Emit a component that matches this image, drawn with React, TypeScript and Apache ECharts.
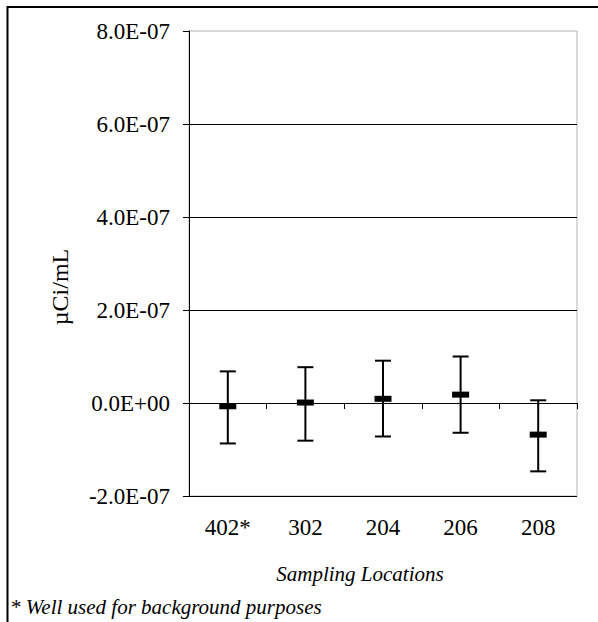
import React, { useEffect, useRef } from "react";
import * as echarts from "echarts";

// Sampling locations and measured concentrations (µCi/mL)
const categories = ["402*", "302", "204", "206", "208"];
const means = [-7e-9, 1e-9, 9e-9, 1.8e-8, -6.8e-8];
const lowerBounds = [-8.7e-8, -8.1e-8, -7.2e-8, -6.4e-8, -1.47e-7];
const upperBounds = [6.8e-8, 7.7e-8, 9.1e-8, 1.0e-7, 5.8e-9];

const yMin = -2e-7;
const yMax = 8e-7;
const yStep = 2e-7;

const FONT = "Liberation Serif";

// Excel-style scientific notation, e.g. 8.0E-07
function sci(v: number): string {
  if (Math.abs(v) < 1e-15) return "0.0E+00";
  const sign = v < 0 ? "-" : "";
  const a = Math.abs(v);
  let exp = Math.floor(Math.log10(a));
  let mant = a / Math.pow(10, exp);
  if (Number(mant.toFixed(1)) >= 10) {
    exp += 1;
    mant = a / Math.pow(10, exp);
  }
  const e = Math.abs(exp).toString().padStart(2, "0");
  return `${sign}${mant.toFixed(1)}E${exp < 0 ? "-" : "+"}${e}`;
}

export default function App() {
  const ref = useRef<HTMLDivElement>(null);

  useEffect(() => {
    if (!ref.current) return;
    const chart = echarts.init(ref.current, undefined, { renderer: "svg" });

    const errorData = categories.map((_, i) => [i, lowerBounds[i], upperBounds[i]]);
    const meanData = categories.map((_, i) => [i, means[i]]);

    chart.setOption({
      animation: false,
      backgroundColor: "#fff",
      grid: {
        left: 189,
        top: 31,
        right: 21,
        bottom: 126,
        show: true,
        borderColor: "#b4b4b4",
        borderWidth: 1,
        backgroundColor: "transparent",
      },
      xAxis: {
        type: "category",
        data: categories,
        boundaryGap: true,
        axisLine: { lineStyle: { color: "#000", width: 1 } },
        axisTick: { show: true, length: 6, inside: false, lineStyle: { color: "#000" }, alignWithLabel: false },
        axisLabel: { color: "#000", fontFamily: FONT, fontSize: 23, margin: 20 },
        splitLine: { show: false },
      },
      yAxis: {
        type: "value",
        min: yMin,
        max: yMax,
        interval: yStep,
        axisLine: { show: true, lineStyle: { color: "#000", width: 1 } },
        axisTick: { show: true, length: 6, lineStyle: { color: "#000" } },
        axisLabel: { color: "#000", fontFamily: FONT, fontSize: 23, margin: 19, formatter: (v: number) => sci(v) },
        splitLine: { show: true, showMaxLine: false, lineStyle: { color: "#000", width: 1 } },
      },
      graphic: [
        {
          type: "polyline",
          shape: { points: [[7.5, 622], [7.5, 7], [598, 7]] },
          style: { stroke: "#000", lineWidth: 2, fill: "none" },
          silent: true,
        },
        {
          type: "text",
          x: 60,
          y: 287,
          rotation: Math.PI / 2,
          style: {
            text: "µCi/mL",
            fontFamily: FONT,
            fontSize: 24,
            fill: "#000",
            align: "center",
            verticalAlign: "middle",
          },
        },
        {
          type: "text",
          x: 360,
          y: 574,
          style: {
            text: "Sampling Locations",
            fontFamily: FONT,
            fontStyle: "italic",
            fontSize: 21,
            fill: "#000",
            align: "center",
            verticalAlign: "middle",
          },
        },
        {
          type: "text",
          x: 10,
          y: 607,
          style: {
            text: "* Well used for background purposes",
            fontFamily: FONT,
            fontStyle: "italic",
            fontSize: 21,
            fill: "#000",
            align: "left",
            verticalAlign: "middle",
          },
        },
      ],
      series: [
        {
          type: "custom",
          name: "range",
          data: errorData,
          z: 3,
          renderItem: (params: any, api: any) => {
            const x = api.value(0);
            const lo = api.coord([x, api.value(1)]);
            const hi = api.coord([x, api.value(2)]);
            const half = 8;
            const style = { stroke: "#000", lineWidth: 2 };
            return {
              type: "group",
              children: [
                { type: "line", shape: { x1: lo[0], y1: lo[1], x2: hi[0], y2: hi[1] }, style },
                { type: "line", shape: { x1: lo[0] - half, y1: lo[1], x2: lo[0] + half, y2: lo[1] }, style },
                { type: "line", shape: { x1: hi[0] - half, y1: hi[1], x2: hi[0] + half, y2: hi[1] }, style },
              ],
            };
          },
        },
        {
          type: "scatter",
          name: "mean",
          data: meanData,
          symbol: "rect",
          symbolSize: [17, 6],
          itemStyle: { color: "#000", opacity: 1 },
          z: 4,
        },
      ],
    });

    return () => chart.dispose();
  }, []);

  return (
    <div
      ref={ref}
      style={{ position: "fixed", left: 0, top: 0, width: 598, height: 622 }}
    />
  );
}
